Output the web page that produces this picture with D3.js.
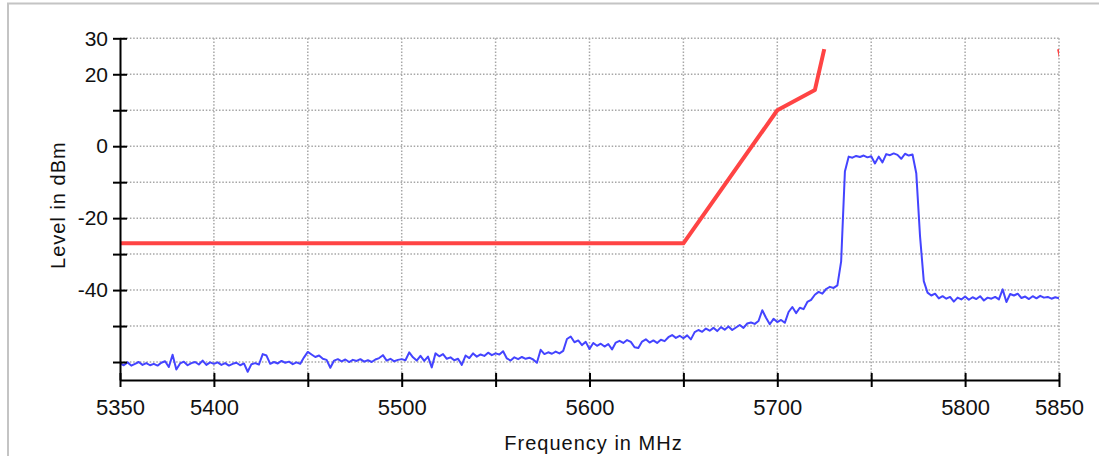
<!DOCTYPE html>
<html>
<head>
<meta charset="utf-8">
<script src="https://cdn.jsdelivr.net/npm/d3@7/dist/d3.min.js"></script>
<style>
  html, body { margin: 0; padding: 0; background: #ffffff; }
  svg { display: block; }
  text { font-family: "Liberation Sans", Arial, sans-serif; fill: #111; }
</style>
</head>
<body>
<svg id="chart" width="1099" height="456"></svg>
<script>
// ---------- data ----------
// Measured spectrum trace (dBm), sampled every 2 MHz from 5350 MHz to 5850 MHz
const traceStartMHz = 5350;
const traceStepMHz = 2;
const traceLevels = [
  // 5350 - 5400
  -60.4, -60.9, -60.1, -61.0, -60.5, -60.0, -60.8, -60.3, -60.9, -60.5, -61.0, -60.2, -59.8, -61.4, -58.0, -62.1, -60.4, -59.9, -60.9, -60.3, -60.0, -60.7, -59.6, -60.8, -60.1, -60.5,
  // 5402 - 5450
  -60.1, -60.8, -60.3, -61.0, -60.5, -60.2, -60.9, -60.4, -62.7, -60.6, -60.3, -60.7, -57.8, -58.2, -60.5, -60.0, -60.4, -59.7, -60.2, -59.9, -60.6, -60.1, -60.5, -58.7, -57.2,
  // 5452 - 5500
  -57.9, -58.6, -58.2, -59.1, -59.4, -61.6, -59.6, -59.2, -59.8, -59.3, -60.0, -59.4, -59.7, -59.2, -59.9, -59.5, -60.0, -59.3, -58.9, -58.1, -59.6, -59.1, -59.8, -59.4, -59.2,
  // 5502 - 5550
  -59.5, -57.3, -58.7, -59.6, -58.3, -59.7, -58.5, -61.5, -57.6, -58.4, -57.8, -59.1, -58.7, -59.5, -59.1, -60.8, -58.2, -58.9, -57.6, -58.5, -57.9, -58.3, -57.4, -58.1, -57.6,
  // 5552 - 5600
  -57.9, -57.0, -59.0, -59.6, -58.7, -59.2, -58.6, -59.1, -58.8, -59.3, -60.2, -56.6, -57.8, -57.3, -57.7, -57.1, -57.6, -56.9, -53.6, -52.9, -54.5, -54.0, -55.3, -54.4, -56.4,
  // 5602 - 5650
  -54.7, -55.5, -54.9, -55.7, -55.0, -56.5, -54.6, -54.1, -54.7, -53.9, -54.4, -55.9, -56.1, -54.3, -53.7, -54.6, -54.0, -54.7, -53.8, -54.2, -53.1, -52.5, -53.3, -52.7, -53.4,
  // 5652 - 5700
  -52.6, -53.7, -51.7, -51.1, -51.6, -50.7, -51.3, -50.5, -51.4, -50.3, -51.0, -50.1, -51.1, -50.4, -49.7, -50.5, -49.3, -49.0, -49.4, -48.6, -45.6, -47.7, -49.5, -48.0, -48.9,
  // 5702 - 5750
  -48.3, -49.1, -46.1, -44.7, -46.4, -44.9, -45.3, -43.3, -42.7, -41.3, -40.5, -41.0, -39.7, -39.1, -39.4, -38.7, -32.0, -7.0, -2.9, -3.2, -2.7, -3.0, -2.6, -3.1, -2.8,
  // 5752 - 5800
  -4.8, -2.9, -4.5, -2.2, -2.5, -2.0, -2.4, -3.5, -2.1, -2.6, -2.3, -7.5, -25.0, -37.5, -40.7, -41.5, -41.0, -42.3, -41.7, -42.4, -41.9, -43.2, -42.1, -42.6, -41.8,
  // 5802 - 5850
  -42.7, -42.0, -42.5, -41.7, -42.9, -42.1, -42.4, -41.9, -42.6, -39.8, -43.3, -41.1, -41.5, -41.0, -42.2, -41.8, -42.5, -41.7, -42.3, -41.6, -42.1, -41.9, -42.4, -42.0, -42.3
];

// Emission limit mask (red), two segments
const maskFreqA  = [5350, 5650, 5700, 5720, 5725];
const maskLevelA = [ -27,  -27,   10,  15.6,   27];
const maskFreqB  = [5850, 5855, 5875, 5925];
const maskLevelB = [  27,  15.6,   10,  -27];

// Axes
const xDomain = [5350, 5850];
const yDomain = [-65, 30];
const xTicks = [5350, 5400, 5450, 5500, 5550, 5600, 5650, 5700, 5750, 5800, 5850];
const xTickLabels = [5350, 5400, 5500, 5600, 5700, 5800, 5850];
const yTicks = [-60, -50, -40, -30, -20, -10, 0, 10, 20, 30];
const yTickLabels = [-40, -20, 0, 20, 30];
const xGrid = [5400, 5450, 5500, 5550, 5600, 5650, 5700, 5750, 5800, 5850];
const yGrid = [-60, -50, -40, -30, -20, -10, 0, 10, 20, 30];
const xTitle = "Frequency in MHz";
const yTitle = "Level in dBm";

// ---------- drawing ----------
(function () {
const svg = d3.select("#chart");
const pLeft = 120, pRight = 1059, pTop = 38.3, pBottom = 380;

const x = d3.scaleLinear().domain(xDomain).range([pLeft, pRight]);
const y = d3.scaleLinear().domain(yDomain).range([pBottom, pTop]);

// outer frame
svg.append("rect")
  .attr("x", 8).attr("y", 3.5)
  .attr("width", 1200).attr("height", 600)
  .attr("fill", "none").attr("stroke", "#c4c4c4").attr("stroke-width", 2);

// grid
const grid = svg.append("g").attr("stroke", "#a6a6a6").attr("stroke-width", 1.5)
  .attr("stroke-dasharray", "1.5,1.8");
grid.selectAll("line.h").data(yGrid).join("line").attr("class", "h")
  .attr("x1", pLeft).attr("x2", pRight)
  .attr("y1", d => y(d)).attr("y2", d => y(d));
grid.selectAll("line.v").data(xGrid).join("line").attr("class", "v")
  .attr("y1", pTop).attr("y2", pBottom)
  .attr("x1", d => x(d)).attr("x2", d => x(d));

// clip for plot lines
svg.append("clipPath").attr("id", "plotclip")
  .append("rect").attr("x", pLeft).attr("y", 0).attr("width", pRight - pLeft).attr("height", pBottom);

const plot = svg.append("g").attr("clip-path", "url(#plotclip)");

// blue trace
const trace = traceLevels.map((v, i) => [traceStartMHz + i * traceStepMHz, v]);
const line = d3.line().x(d => x(d[0])).y(d => y(d[1]));
plot.append("path")
  .datum(trace)
  .attr("d", line)
  .attr("fill", "none")
  .attr("stroke", "#4444ff")
  .attr("stroke-width", 2)
  .attr("stroke-linejoin", "round");

// red mask
const maskA = maskFreqA.map((f, i) => [f, maskLevelA[i]]);
const maskB = maskFreqB.map((f, i) => [f, maskLevelB[i]]);
[maskA, maskB].forEach(seg => {
  plot.append("path")
    .datum(seg)
    .attr("d", line)
    .attr("fill", "none")
    .attr("stroke", "#ff4444")
    .attr("stroke-width", 4)
    .attr("stroke-linejoin", "round");
});

// x axis
const xAxis = d3.axisBottom(x)
  .tickValues(xTicks)
  .tickFormat(d => xTickLabels.includes(d) ? String(d) : "")
  .tickSizeOuter(0)
  .tickSizeInner(7)
  .tickPadding(12);
const gx = svg.append("g").attr("transform", `translate(0,${pBottom})`).call(xAxis);
gx.select(".domain").attr("stroke", "#000").attr("stroke-width", 2);
gx.selectAll(".tick line").attr("y1", -7).attr("y2", 7).attr("stroke", "#000").attr("stroke-width", 2);
gx.selectAll(".tick text")
  .attr("font-family", "Liberation Sans, Arial, sans-serif")
  .attr("font-size", 22).attr("fill", "#111")
  .attr("dy", "0.71em").attr("y", 19);

// y axis
const yAxis = d3.axisLeft(y)
  .tickValues(yTicks)
  .tickFormat(d => yTickLabels.includes(d) ? String(d) : "")
  .tickSizeOuter(0)
  .tickSizeInner(7)
  .tickPadding(12);
const gy = svg.append("g").attr("transform", `translate(${pLeft},0)`).call(yAxis);
gy.select(".domain").attr("stroke", "#000").attr("stroke-width", 2);
gy.selectAll(".tick line").attr("x1", 7).attr("x2", -7).attr("stroke", "#000").attr("stroke-width", 2);
gy.selectAll(".tick text")
  .attr("font-family", "Liberation Sans, Arial, sans-serif")
  .attr("font-size", 21).attr("fill", "#111")
  .attr("x", -12);

// axis titles
svg.append("text")
  .attr("x", (pLeft + pRight) / 2 + 4).attr("y", 450)
  .attr("text-anchor", "middle")
  .attr("font-size", 20).attr("letter-spacing", 1)
  .text(xTitle);

svg.append("text")
  .attr("transform", `translate(65,${(pTop + pBottom) / 2 - 4}) rotate(-90)`)
  .attr("text-anchor", "middle")
  .attr("font-size", 20).attr("letter-spacing", 1)
  .text(yTitle);
})();
</script>
</body>
</html>
